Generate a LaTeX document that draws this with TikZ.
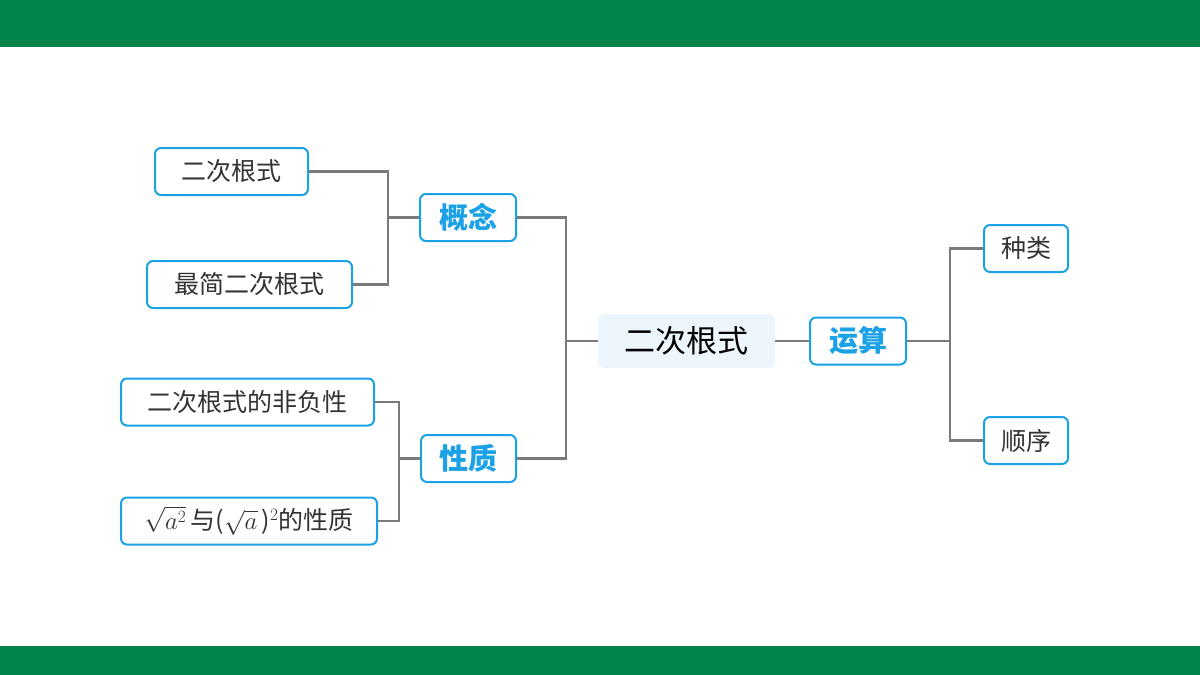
\documentclass[tikz,border=0pt]{standalone}
\usepackage{fontspec}
\setmainfont{Noto Sans CJK SC}
\usepackage{tikz}

\definecolor{barGreen}{HTML}{00844C}
\definecolor{boxBlue}{HTML}{1BA1E6}
\definecolor{lineGray}{HTML}{7A7A7A}
\definecolor{rootFill}{HTML}{EEF6FD}
\definecolor{leafText}{HTML}{333333}

\tikzset{
    leaf/.style={draw=boxBlue, line width=2pt, rounded corners=6pt, fill=white,
        text=leafText, font=\fontsize{25}{30}\selectfont, minimum height=47pt, inner sep=0pt},
    branch/.style={leaf, text=boxBlue, font=\fontsize{29}{34}\selectfont\bfseries},
    link/.style={draw=lineGray, line width=2.2pt},
}

\begin{document}
\begin{tikzpicture}[x=1pt, y=-1pt]
    \useasboundingbox (0,0) rectangle (1200,675);
    % Bars
    \fill[barGreen] (0,0) rectangle (1200,47);
    \fill[barGreen] (0,646) rectangle (1200,675);

    % Nodes
    \node[fill=rootFill, rounded corners=6pt, minimum width=177pt, minimum height=54pt,
        text=black, font=\fontsize{31}{36}\selectfont] (root) at (686.5,341) {二次根式};
    \node[branch, minimum width=96pt] (gainian) at (468,217.5) {概念};
    \node[branch, minimum width=95pt] (xingzhi) at (468.5,458.5) {性质};
    \node[branch, minimum width=96pt] (yunsuan) at (858,341) {运算};
    \node[leaf, minimum width=153pt] (dingyi) at (231.5,171.5) {二次根式};
    \node[leaf, minimum width=205pt] (zuijian) at (249.5,284.5) {最简二次根式};
    \node[leaf, minimum width=253pt] (feifu) at (247.5,402) {二次根式的非负性};
    \node[leaf, minimum width=256pt] (xingzhiB) at (249,521)
        {$\sqrt{a^2}$\,与($\sqrt{a}$\,)$^2$的性质};
    \node[leaf, minimum width=84pt] (zhonglei) at (1026,248.5) {种类};
    \node[leaf, minimum width=84pt] (shunxu) at (1026,440.5) {顺序};

    % Connectors
    \draw[link] (dingyi.east) -| (388,250) |- (zuijian.east);
    \draw[link] (388,217.5) -- (gainian.west);
    \draw[link] (feifu.east) -| (399,460) |- (xingzhiB.east);
    \draw[link] (399,458.5) -- (xingzhi.west);
    \draw[link] (gainian.east) -| (566,341) |- (xingzhi.east);
    \draw[link] (566,341) -- (root.west);
    \draw[link] (root.east) -- (yunsuan.west);
    \draw[link] (yunsuan.east) -| (950,341) |- (zhonglei.west);
    \draw[link] (950,341) |- (shunxu.west);
\end{tikzpicture}
\end{document}
